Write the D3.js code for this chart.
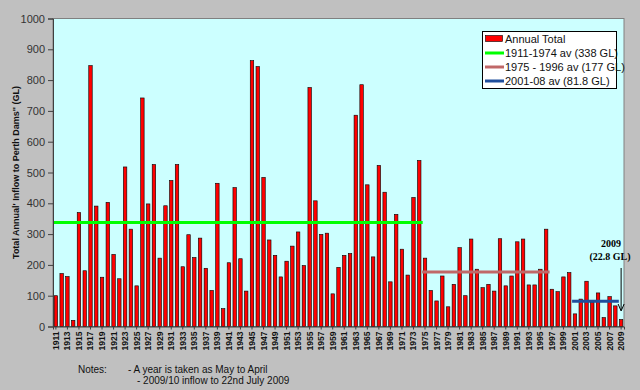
<!DOCTYPE html>
<html><head><meta charset="utf-8">
<script src="https://cdn.jsdelivr.net/npm/d3@7"></script>
<style>body{margin:0;background:#c0c0c0;}svg{display:block;}</style>
</head><body>
<script>
const years = d3.range(1911, 2010);
const inflow = [100,172,162,20,370,181,847,391,160,403,234,155,518,316,132,742,398,526,222,392,
474,526,194,298,224,287,189,117,465,58,207,451,220,115,863,844,484,281,231,161,
212,261,307,198,776,408,299,303,106,192,231,237,686,785,460,226,523,436,145,364,
251,167,419,539,222,117,83,164,64,137,256,100,284,186,126,137,115,285,132,164,
275,284,135,135,186,316,121,113,161,175,41,89,147,78,109,29,97,67,22.8];
const averages = [
  {label:"1911-1974 av (338 GL)", from:1911, to:1974, value:338, color:"#00ff00"},
  {label:"1975 - 1996 av (177 GL)", from:1975, to:1996, value:177, color:"#c06868"},
  {label:"2001-08 av (81.8 GL)", from:2001, to:2008, value:81.8, color:"#1f4e9c"}
];
const yTicks = d3.range(0, 1001, 100);
const xTickYears = years.filter(y => y % 2 === 1);

const W = 640, H = 390;
const svg = d3.select("body").append("svg").attr("width", W).attr("height", H);
svg.append("rect").attr("width", W).attr("height", H).attr("fill", "#c0c0c0");

const L = 53, R = 624, T = 18.5, B = 326.5;
const x = d3.scaleBand().domain(years).range([L, R]).paddingInner(0.4).paddingOuter(0.2);
const y = d3.scaleLinear().domain([0, 1000]).range([B, T]);

svg.append("rect").attr("x", L).attr("y", T).attr("width", R - L).attr("height", B - T)
  .attr("fill", "#ccffff").attr("stroke", "#808080").attr("stroke-width", 1);

// bars
svg.append("g").selectAll("rect").data(years).join("rect")
  .attr("x", d => x(d)).attr("width", x.bandwidth())
  .attr("y", (d, i) => y(inflow[i])).attr("height", (d, i) => B - y(inflow[i]))
  .attr("fill", "#ff0000").attr("stroke", "#000").attr("stroke-width", 0.6);

// average lines
const step = x.step();
svg.append("g").selectAll("line").data(averages).join("line")
  .attr("x1", d => d.from === 1911 ? L : x(d.from) - step * 0.2)
  .attr("x2", d => x(d.to) + x.bandwidth() + step * 0.3)
  .attr("y1", d => y(d.value)).attr("y2", d => y(d.value))
  .attr("stroke", d => d.color).attr("stroke-width", 3);

// y axis
const yAxis = svg.append("g").attr("transform", `translate(${L},0)`)
  .call(d3.axisLeft(y).tickValues(yTicks).tickFormat(d3.format("d")).tickSize(5).tickPadding(3));
yAxis.select(".domain").attr("stroke", "#404040");
yAxis.selectAll(".tick line").attr("stroke", "#404040");
yAxis.selectAll("text").attr("font-family", "Liberation Sans, Arial, sans-serif")
  .attr("font-size", 11).attr("fill", "#333");

// x axis
const xAxis = svg.append("g").attr("transform", `translate(0,${B})`)
  .call(d3.axisBottom(x).tickValues(xTickYears).tickSize(3));
xAxis.select(".domain").attr("stroke", "#404040");
xAxis.selectAll(".tick line").attr("stroke", "#404040");
xAxis.selectAll("text")
  .attr("font-family", "Liberation Sans, Arial, sans-serif").attr("font-size", 8.5)
  .attr("font-weight", "bold").attr("fill", "#111")
  .attr("transform", "rotate(-90)").attr("text-anchor", "end")
  .attr("x", -5).attr("y", 0).attr("dy", "0.35em");

// y title
svg.append("text").attr("transform", `translate(19,${(T + B) / 2}) rotate(-90)`)
  .attr("text-anchor", "middle").attr("font-family", "Liberation Sans, Arial, sans-serif")
  .attr("font-size", 9).attr("font-weight", "bold").attr("fill", "#111")
  .text("Total Annual' Inflow to Perth Dams'' (GL)");

// legend
const lg = svg.append("g");
lg.append("rect").attr("x", 482.5).attr("y", 31.5).attr("width", 134).attr("height", 57)
  .attr("fill", "#fff").attr("stroke", "#000");
const rows = [{label:"Annual Total", type:"bar"}].concat(averages.map(a => ({label:a.label, color:a.color, type:"line"})));
rows.forEach((r, i) => {
  const cy = 39 + i * 14;
  if (r.type === "bar") {
    lg.append("rect").attr("x", 485.5).attr("y", cy - 3.5).attr("width", 17).attr("height", 6)
      .attr("fill", "#ff0000").attr("stroke", "#000").attr("stroke-width", 0.6);
  } else {
    lg.append("line").attr("x1", 485).attr("x2", 504).attr("y1", cy).attr("y2", cy)
      .attr("stroke", r.color).attr("stroke-width", 3);
  }
  lg.append("text").attr("x", 505).attr("y", cy).attr("dy", "0.36em")
    .attr("font-family", "Liberation Sans, Arial, sans-serif").attr("font-size", 11)
    .attr("fill", "#111").text(r.label);
});

// annotation
const ax = x(2009) + x.bandwidth() / 2;
svg.append("text").attr("x", 611).attr("y", 247).attr("text-anchor", "middle")
  .attr("font-family", "Liberation Serif, Times New Roman, serif").attr("font-size", 10)
  .attr("font-weight", "bold").text("2009");
svg.append("text").attr("x", 610).attr("y", 259.5).attr("text-anchor", "middle")
  .attr("font-family", "Liberation Serif, Times New Roman, serif").attr("font-size", 10)
  .attr("font-weight", "bold").text("(22.8 GL)");
svg.append("line").attr("x1", ax).attr("x2", ax).attr("y1", 268).attr("y2", 310)
  .attr("stroke", "#000").attr("stroke-width", 1);
svg.append("path").attr("d", `M${ax - 3},${304} L${ax},${311} L${ax + 3},${304}`)
  .attr("fill", "none").attr("stroke", "#000").attr("stroke-width", 1);

// notes
const nf = "Liberation Sans, Arial, sans-serif";
svg.append("text").attr("x", 78).attr("y", 373).attr("font-family", nf).attr("font-size", 10).attr("fill", "#111").text("Notes:");
svg.append("text").attr("x", 128).attr("y", 373).attr("font-family", nf).attr("font-size", 10).attr("fill", "#111").text("- A year is taken as May to April");
svg.append("text").attr("x", 137).attr("y", 384).attr("font-family", nf).attr("font-size", 10).attr("fill", "#111").text("- 2009/10 inflow to 22nd July 2009");
</script>
</body></html>
